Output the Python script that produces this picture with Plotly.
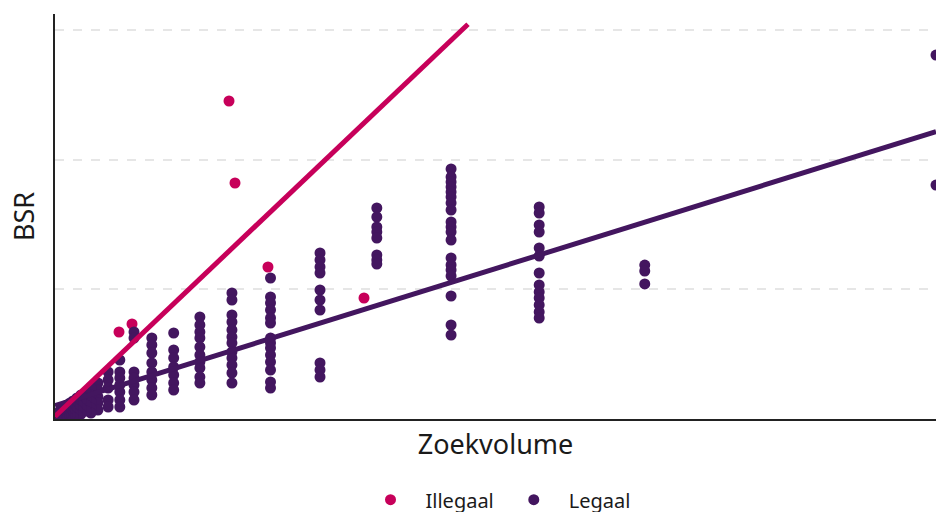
import plotly.graph_objects as go

# ---- data ----
legaal_x = (
    [12100] * 2
    + [8100] * 3
    + [6650] * 13
    + [5440] * 19
    + [4420] * 8
    + [3640] * 10
    + [2960] * 14
    + [2430] * 12
    + [1990] * 10
    + [1630] * 7
    + [1330] * 8
    + [1085] * 7
    + [890] * 7
    + [730] * 5
    + [590] * 5
    + [494] * 5
    + [426] * 4
    + [357] * 4
    + [302] * 4
    + [247] * 4
    + [206] * 3
    + [165] * 3
    + [137] * 3
    + [110] * 2
    + [82] * 2
    + [55] * 2
    + [27] * 2
    + [14] * 1
)
legaal_y = (
    [28060, 18040]
    + [11870, 11410, 10410]
    + [16345, 15883, 14957, 14418, 13184, 12567, 11257, 10331, 9792, 9329, 8789, 8250, 7787]
    + [19275, 18658, 18273, 17887, 17502, 17116, 16654, 16114, 15189, 14803, 14418, 13801,
       12413, 11873, 11488, 11025, 9483, 7247, 6476]
    + [16268, 15574, 14803, 14418, 13955, 12644, 12259, 11951]
    + [12799, 12259, 11719, 11257, 9946, 9175, 8404, 4318, 3778, 3238]
    + [10871, 9406, 8944, 8404, 7787, 7402, 6245, 5860, 5474, 4934, 4395, 3778, 2853, 2390]
    + [9715, 9175, 8018, 7479, 6862, 6322, 5860, 5166, 4703, 4163, 3547, 2776]
    + [7864, 7247, 6708, 6245, 5551, 4934, 4395, 3932, 3238, 2776]
    + [6631, 5320, 4703, 4009, 3392, 2776, 2236]
    + [6245, 5705, 5089, 4318, 3624, 3007, 2390, 1850]
    + [6708, 6245, 3624, 3161, 2621, 2082, 1465]
    + [4549, 3624, 3161, 2621, 2082, 1465, 925]
    + [3624, 3007, 2390, 1465, 925]
    + [2776, 2236, 1696, 1234, 694]
    + [2390, 1850, 1311, 848, 463]
    + [2005, 1542, 1079, 617]
    + [1850, 1388, 848, 386]
    + [1619, 1157, 694, 308]
    + [1388, 925, 463, 154]
    + [1234, 771, 308]
    + [1079, 617, 231]
    + [925, 463, 77]
    + [771, 308]
    + [694, 231]
    + [540, 154]
    + [386, 77]
    + [154]
)

illegaal_x = [2390, 2472, 2925, 4244, 879, 1058]
illegaal_y = [24518, 18196, 11719, 9329, 6708, 7325]

# regression lines (intercept, slope, x-extent)
legaal_fit = dict(intercept=1033, slope=1.746, x0=0, x1=12100)
illegaal_fit = dict(intercept=200, slope=5.33, x0=0, x1=5672)

series_names = ["Illegaal", "Legaal"]
x_title = "Zoekvolume"
y_title = "BSR"
y_grid = [10000, 20000, 30000]
x_max = 12100
y_max = 31226

PINK = "#C7005A"
PURPLE = "#43165F"
FONT = "Noto Sans, Open Sans, sans-serif"


def fit_line(f):
    xs = [f["x0"], f["x1"]]
    ys = [f["intercept"] + f["slope"] * x for x in xs]
    return xs, ys


fig = go.Figure()
fig.add_trace(go.Scatter(
    x=illegaal_x, y=illegaal_y, mode="markers", name=series_names[0],
    marker=dict(color=PINK, size=11, line=dict(width=0)),
))
fig.add_trace(go.Scatter(
    x=legaal_x, y=legaal_y, mode="markers", name=series_names[1],
    marker=dict(color=PURPLE, size=11, line=dict(width=0)),
))
lx, ly = fit_line(legaal_fit)
fig.add_trace(go.Scatter(x=lx, y=ly, mode="lines", showlegend=False,
                         line=dict(color=PURPLE, width=5), hoverinfo="skip"))
ix, iy = fit_line(illegaal_fit)
fig.add_trace(go.Scatter(x=ix, y=iy, mode="lines", showlegend=False,
                         line=dict(color=PINK, width=5), hoverinfo="skip"))

fig.update_layout(
    width=936, height=512,
    margin=dict(l=55, r=0, t=14, b=93),
    plot_bgcolor="white", paper_bgcolor="white",
    font=dict(family=FONT, color="#1a1a1a"),
    showlegend=True,
    legend=dict(orientation="h", xref="paper", x=0.50, xanchor="center",
                yref="container", y=0.024, yanchor="middle",
                font=dict(size=20, family=FONT), itemsizing="trace", itemwidth=60),
    xaxis=dict(
        range=[0, x_max], showgrid=False, zeroline=False,
        showticklabels=False, ticks="",
        showline=True, linecolor="#222222", linewidth=2,
        title=dict(text=x_title, font=dict(size=27, family=FONT), standoff=15),
        automargin=False,
    ),
    yaxis=dict(
        range=[0, y_max], tickvals=y_grid, showticklabels=False, ticks="",
        showgrid=True, gridcolor="#E6E6E6", gridwidth=1.5, griddash="dash",
        zeroline=False, showline=True, linecolor="#222222", linewidth=2,
        title=dict(text=y_title, font=dict(size=27, family=FONT), standoff=11),
        automargin=False,
    ),
)

fig.write_html(
    "out.html",
    config={"displayModeBar": False},
    post_script="document.body.style.margin='0';document.body.style.overflow='hidden';",
)
